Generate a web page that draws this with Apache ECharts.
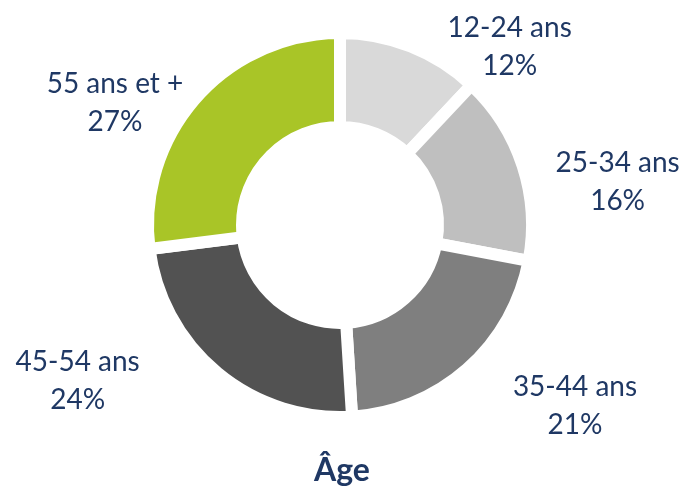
<!DOCTYPE html>
<html>
<head>
<meta charset="utf-8">
<script src="https://cdn.jsdelivr.net/npm/echarts@6/dist/echarts.min.js"></script>
<style>
  html, body { margin: 0; padding: 0; background: #fff; }
  #chart { width: 684px; height: 494px; }
</style>
</head>
<body>
<div id="chart"></div>
<script>
// tranches d'âge
const categories = ['12-24 ans', '25-34 ans', '35-44 ans', '45-54 ans', '55 ans et +']
const shares = [12, 16, 21, 24, 27]

const palette = ['#D9D9D9', '#BFBFBF', '#7F7F7F', '#525252', '#A9C527']
const navy = '#1F3864'

// petits décalages des étiquettes (mise en page type Excel)
const labelNudge = [[-6, 0], [-10, 16], [3, 37], [-35, 8], [24, 5]]

const chart = echarts.init(document.getElementById('chart'))

chart.setOption({
  animation: false,
  color: palette,
  title: {
    text: 'Âge',
    left: 'center',
    top: 450,
    textStyle: {
      fontFamily: 'Lato',
      fontWeight: 'bold',
      fontSize: 32,
      color: navy
    }
  },
  series: [{
    type: 'pie',
    center: [340, 225],
    radius: [98, 192],
    startAngle: 90,
    avoidLabelOverlap: false,
    itemStyle: {
      borderColor: '#fff',
      borderWidth: 12
    },
    label: {
      show: true,
      position: 'outside',
      formatter: '{n|{b}}\n{n|{c}%}',
      rich: {
        n: {
          fontFamily: 'Lato',
          fontSize: 28,
          lineHeight: 38,
          color: navy,
          align: 'center'
        }
      }
    },
    labelLine: {
      show: false,
      length: 0,
      length2: 100
    },
    labelLayout: function (params) {
      const d = labelNudge[params.dataIndex]
      return { align: 'center', dx: d[0], dy: d[1] }
    },
    data: categories.map((name, i) => ({ name: name, value: shares[i] }))
  }]
})
</script>
</body>
</html>
